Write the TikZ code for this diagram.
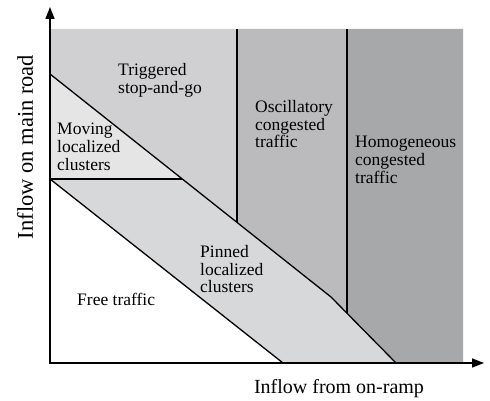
\documentclass[tikz,border=0pt]{standalone}
\usepackage{fontspec}
\setmainfont{Liberation Serif}
\usetikzlibrary{arrows.meta}
\definecolor{trigfill}{HTML}{D0D0D2}
\definecolor{movefill}{HTML}{E5E5E5}
\definecolor{oscfill}{HTML}{BBBBBD}
\definecolor{homfill}{HTML}{A7A8AA}
\definecolor{pinfill}{HTML}{D7D8DA}

\begin{document}
\begin{tikzpicture}[x=1pt,y=-1pt,
 border/.style={line width=1.3pt,draw=black},
 axis/.style={{Triangle[length=12pt,width=9pt]}-{Triangle[length=12pt,width=9pt]},line width=1.4pt},
 lab/.style={anchor=north west,inner sep=0pt,align=left,font=\fontsize{17.5}{17.8}\selectfont},
 axislab/.style={inner sep=0pt}]
\useasboundingbox (0,0) rectangle (490,401);
% corner points of the phases
\coordinate (O) at (50,363);
\coordinate (top) at (50,29);
\coordinate (ul) at (50,74);
\coordinate (ll) at (50,179);
\coordinate (mc) at (182,179);
\coordinate (v1t) at (237,29);
\coordinate (v1b) at (237,222.4);
\coordinate (kink) at (331,297);
\coordinate (v2t) at (347,29);
\coordinate (v2b) at (347,313.2);
\coordinate (ue) at (396,363);
\coordinate (le) at (283,363);
\coordinate (rt) at (463,29);
\coordinate (rb) at (463,363);
\coordinate (xtip) at (484,363);
\coordinate (ytip) at (50,7);
% phase regions
\fill[trigfill] (top) -- (v1t) -- (v1b) -- (ul) -- cycle;
\fill[movefill] (ul) -- (mc) -- (ll) -- cycle;
\fill[oscfill] (v1t) -- (v2t) -- (v2b) -- (kink) -- (v1b) -- cycle;
\fill[homfill] (v2t) -- (rt) -- (rb) -- (ue) -- (v2b) -- cycle;
\fill[pinfill] (ll) -- (mc) -- (kink) -- (ue) -- (le) -- cycle;
% boundaries
\draw[border] (ul) -- (kink) -- (ue);
\draw[border] (ll) -- (le);
\draw[border] (ll) -- (mc);
\draw[border] (v1t) -- (v1b);
\draw[border] (v2t) -- (v2b);
\draw[axis] (ytip) -- (O) -- (xtip);
% labels
\node[lab] (trig) at (118,63) {Triggered\\stop-and-go};
\node[lab] (move) at (57,123) {Moving\\localized\\clusters};
\node[lab] (osc) at (255,100) {Oscillatory\\congested\\traffic};
\node[lab] (hom) at (355,136) {Homogeneous\\congested\\traffic};
\node[lab] (pin) at (200,245) {Pinned\\localized\\clusters};
\node[lab] (free) at (77,293) {Free traffic};
\node[axislab,anchor=base,font=\fontsize{20}{22}\selectfont] (xlab) at (339,393) {Inflow from on-ramp};
\node[axislab,rotate=90,font=\fontsize{22.5}{24}\selectfont] (ylab) at (25,147) {Inflow on main road};
\end{tikzpicture}
\end{document}
